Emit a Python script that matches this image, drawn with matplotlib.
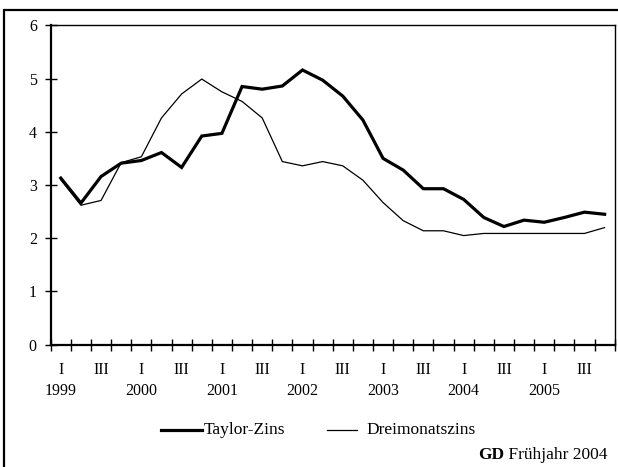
import matplotlib
matplotlib.use("Agg")
import matplotlib.pyplot as plt
from matplotlib.patches import Rectangle
from matplotlib.lines import Line2D

plt.rcParams['font.family'] = ['Liberation Serif', 'DejaVu Serif']

years = ['1999', '2000', '2001', '2002', '2003', '2004', '2005']
quarters = ['I', 'II', 'III', 'IV']
taylor = [3.13, 2.66, 3.16, 3.41, 3.46, 3.61, 3.33, 3.92, 3.97, 4.85, 4.80, 4.86, 5.16, 4.97,
          4.67, 4.22, 3.50, 3.28, 2.93, 2.93, 2.73, 2.39, 2.22, 2.34, 2.30, 2.39, 2.49, 2.45]
dreimonat = [3.10, 2.62, 2.71, 3.42, 3.53, 4.26, 4.71, 4.99, 4.75, 4.57, 4.26, 3.44, 3.36, 3.44,
             3.36, 3.09, 2.67, 2.33, 2.14, 2.14, 2.05, 2.09, 2.09, 2.09, 2.09, 2.09, 2.09, 2.20]
legend_labels = ['Taylor-Zins', 'Dreimonatszins']
source_bold = 'GD'
source_rest = ' Frühjahr 2004'

W, H = 618, 467
fig = plt.figure(figsize=(W / 100, H / 100), dpi=100)
ax = fig.add_axes([50.7 / W, 1 - 344.7 / H, (614.7 - 50.7) / W, (344.7 - 25.3) / H])

n = len(taylor)
x = list(range(n))
ax.plot(x, taylor, color='black', lw=2.3, solid_joinstyle='miter', zorder=3)
ax.plot(x, dreimonat, color='black', lw=0.9, zorder=2)

ax.set_xlim(-0.5, n - 0.5)
ax.set_ylim(0, 6)
ax.set_yticks(range(0, 7))
ax.set_xticks([i - 0.5 for i in range(n + 1)])
ax.set_xticklabels([])
ax.tick_params(axis='both', direction='inout', length=8, width=1.0, labelsize=11.5, color='black')
ax.tick_params(axis='y', pad=6)
for s in ax.spines.values():
    s.set_linewidth(1.0)
for s in ['left', 'bottom']:
    ax.spines[s].set_linewidth(1.6)

trans = ax.get_xaxis_transform()
h = 344.7 - 25.3
for i in range(n):
    q = i % 4
    if q in (0, 2):
        ax.text(i, (344.7 - 369.5) / h, quarters[q], transform=trans, ha='center', va='center', fontsize=11.5)
    if q == 0:
        ax.text(i, (344.7 - 391) / h, years[i // 4], transform=trans, ha='center', va='center', fontsize=11.5)

# legend
fy = 1 - 430 / H
fig.add_artist(Line2D([161 / W, 202 / W], [fy, fy], color='black', lw=2.3))
fig.text(204 / W, fy, legend_labels[0], ha='left', va='center', fontsize=12.5)
fig.add_artist(Line2D([327 / W, 357 / W], [fy, fy], color='black', lw=0.9))
fig.text(366 / W, fy, legend_labels[1], ha='left', va='center', fontsize=12.5)

# source
sy = 1 - 455 / H
t2 = fig.text(608 / W, sy, source_rest, ha='right', va='center', fontsize=12.5)
fig.canvas.draw()
bb = t2.get_window_extent()
fig.text(bb.x0 / W, sy, source_bold, ha='right', va='center', fontsize=12.5, fontweight='bold')

# outer frame
fig.add_artist(Rectangle((4 / W, -0.01), 1.0, 1 - 10 / H + 0.01, transform=fig.transFigure,
                         fill=False, edgecolor='black', lw=1.6))

fig.savefig('out.png', dpi=100)
